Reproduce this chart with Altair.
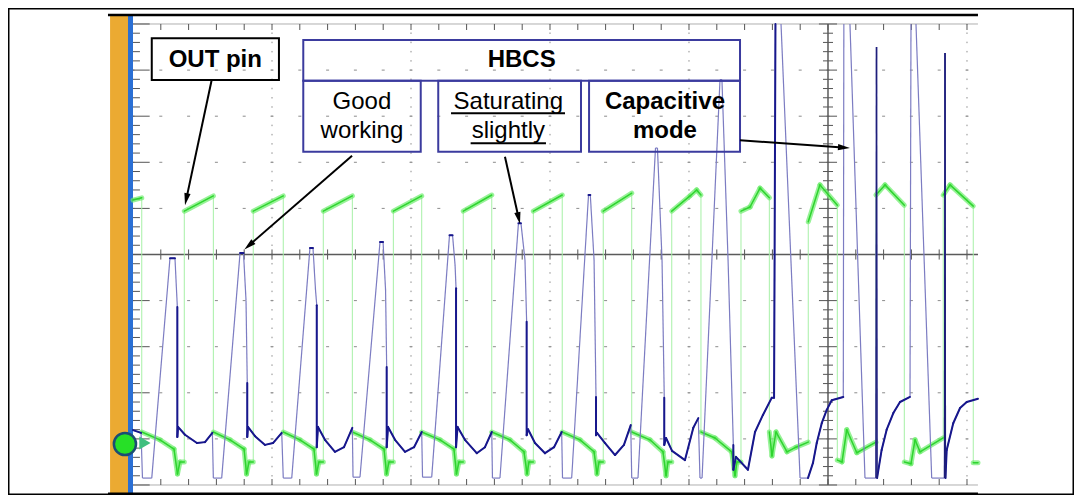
import math
import altair as alt
import pandas as pd

# ---------------------------------------------------------------------------
# Values, in screen divisions.
# time: 0 = left edge of graticule, 1 = one major division
# amplitude: 0 = centre line, 1 = one major division
# ---------------------------------------------------------------------------

# HBCS current (blue trace)
# style 0 = fast (thin), 1 = slow (dark), 2 = off screen, 3 = thin dark spike
blue_t = [
    0.000, 0.058, 0.068, 0.135, 0.266, 0.302, 0.313, 0.319, 0.319, 0.324, 0.374, 0.460, 0.518, 0.571,
    0.578, 0.638, 0.770, 0.795, 0.813, 0.822, 0.822, 0.827, 0.878, 0.950, 1.007, 1.070,
    1.081, 1.142, 1.273, 1.295, 1.313, 1.322, 1.322, 1.331, 1.381, 1.453, 1.518, 1.578,
    1.583, 1.633, 1.777, 1.799, 1.817, 1.825, 1.825, 1.835, 1.885, 1.957, 2.022, 2.077,
    2.083, 2.149, 2.277, 2.299, 2.317, 2.324, 2.324, 2.335, 2.388, 2.473, 2.532, 2.581,
    2.586, 2.640, 2.773, 2.791, 2.820, 2.832, 2.832, 2.842, 2.892, 2.964, 3.029, 3.084,
    3.090, 3.156, 3.277, 3.290, 3.317, 3.331, 3.331, 3.338, 3.396, 3.468, 3.532, 3.581,
    3.588, 3.633, 3.759, 3.773, 3.806, 3.822, 3.822, 3.835, 3.878, 3.971, 4.031, 4.067,
    4.079, 4.094, 4.223, 4.237, 4.281, 4.319, 4.319, 4.338, 4.424, 4.475, 4.532, 4.595, 4.612,
    4.622, 4.662, 4.799, 4.856, 4.892, 4.919, 4.955, 4.991, 5.027, 5.110,
    5.114, 5.158, 5.266, 5.345, 5.349, 5.353, 5.386, 5.422, 5.470, 5.518, 5.590,
    5.597, 5.633, 5.746, 5.838, 5.842, 5.845, 5.854, 5.901, 5.950, 5.998, 6.079,
]
blue_v = [
    -3.81, -3.87, -4.85, -4.85, -0.08, -0.08, -0.77, -1.14, -3.96, -3.74, -3.91, -4.09, -4.07, -3.87,
    -4.85, -4.85, 0.03, 0.03, -0.99, -2.79, -3.96, -3.74, -3.94, -4.13, -4.09, -3.87,
    -4.85, -4.85, 0.14, 0.14, -0.77, -1.10, -4.18, -3.74, -4.02, -4.28, -4.18, -3.76,
    -4.83, -4.83, 0.27, 0.27, -0.77, -2.44, -4.18, -3.74, -4.02, -4.28, -4.18, -3.85,
    -4.83, -4.83, 0.42, 0.42, -0.23, -0.73, -4.18, -3.74, -4.02, -4.31, -4.18, -3.85,
    -4.85, -4.85, 0.68, 0.68, -0.12, -1.46, -3.92, -3.79, -4.09, -4.31, -4.18, -3.85,
    -4.85, -4.85, 1.29, 1.29, -0.12, -3.09, -3.92, -3.87, -4.09, -4.35, -4.13, -3.70,
    -4.85, -4.85, 2.31, 2.31, -0.12, -3.11, -4.13, -3.98, -4.26, -4.46, -3.76, -3.55,
    -4.85, -4.85, 3.79, 3.79, -0.12, -4.13, -4.67, -4.39, -4.67, -3.85, -3.48, -3.11, -3.11,
    5.00, 5.00, -4.85, -4.85, -4.52, -4.09, -3.66, -3.37, -3.16, -3.09,
    5.00, 5.00, -4.85, -4.85, 4.50, -4.85, -4.24, -3.80, -3.44, -3.20, -3.09,
    5.00, 5.00, -4.85, -4.85, 4.37, -4.85, -4.24, -3.66, -3.33, -3.20, -3.13,
]
blue_style = [
    1, 0, 0, 0, 1, 0, 0, 1, 1, 1, 1, 1, 1, 0,
    0, 0, 1, 0, 0, 1, 1, 1, 1, 1, 1, 0,
    0, 0, 1, 0, 0, 1, 1, 1, 1, 1, 1, 0,
    0, 0, 1, 0, 0, 1, 1, 1, 1, 1, 1, 0,
    0, 0, 1, 0, 0, 1, 1, 1, 1, 1, 1, 0,
    0, 0, 1, 0, 0, 1, 1, 1, 1, 1, 1, 0,
    0, 0, 1, 0, 0, 1, 1, 1, 1, 1, 1, 0,
    0, 0, 0, 0, 0, 1, 1, 1, 1, 1, 1, 0,
    0, 0, 0, 0, 0, 1, 1, 1, 1, 1, 1, 1, 1,
    2, 0, 0, 1, 1, 1, 1, 1, 1, 0,
    2, 0, 0, 3, 3, 1, 1, 1, 1, 1, 0,
    2, 0, 0, 3, 3, 1, 1, 1, 1, 1, 0,
]

# OUT pin (green trace)
green_t = [
    0.000, 0.063, 0.063, 0.194, 0.295, 0.320, 0.338, 0.369,
    0.369, 0.578, 0.578, 0.698, 0.799, 0.817, 0.835, 0.865,
    0.865, 1.081, 1.081, 1.201, 1.302, 1.320, 1.338, 1.369,
    1.369, 1.578, 1.578, 1.705, 1.806, 1.824, 1.842, 1.873,
    1.873, 2.077, 2.077, 2.209, 2.309, 2.327, 2.345, 2.376,
    2.376, 2.581, 2.581, 2.712, 2.813, 2.835, 2.849, 2.880,
    2.880, 3.088, 3.088, 3.216, 3.317, 3.338, 3.353, 3.383,
    3.383, 3.588, 3.588, 3.719, 3.813, 3.835, 3.849, 3.876,
    3.876, 4.007, 4.055, 4.086, 4.086, 4.187, 4.307, 4.331, 4.345, 4.374,
    4.374, 4.439, 4.511, 4.578, 4.578, 4.597, 4.626, 4.705, 4.770, 4.858,
    4.858, 4.942, 5.067, 5.067, 5.101, 5.135, 5.207, 5.345,
    5.345, 5.410, 5.549, 5.549, 5.597, 5.626, 5.662, 5.829,
    5.829, 5.878, 6.045, 6.045, 6.079,
]
green_v = [
    1.18, 1.23, -3.85, -4.02, -4.22, -4.76, -4.50, -4.50,
    0.94, 1.27, -3.85, -4.02, -4.22, -4.76, -4.50, -4.50,
    0.94, 1.27, -3.85, -4.02, -4.22, -4.76, -4.50, -4.50,
    0.94, 1.27, -3.85, -4.02, -4.22, -4.76, -4.50, -4.50,
    0.94, 1.27, -3.85, -4.02, -4.22, -4.76, -4.50, -4.50,
    0.94, 1.29, -3.85, -4.02, -4.28, -4.76, -4.50, -4.50,
    0.94, 1.29, -3.85, -4.02, -4.28, -4.76, -4.50, -4.50,
    0.94, 1.33, -3.85, -4.02, -4.28, -4.80, -4.50, -4.50,
    0.94, 1.27, 1.40, 1.29, -3.85, -3.98, -4.28, -4.80, -4.50, -4.50,
    0.94, 1.03, 1.44, 1.23, -3.85, -4.37, -3.85, -4.28, -4.18, -4.07,
    0.71, 1.51, 1.07, -4.46, -4.50, -3.80, -4.30, -4.07,
    1.29, 1.51, 1.07, -4.50, -4.54, -4.02, -4.28, -3.98,
    1.29, 1.51, 1.05, -4.52, -4.52,
]

# graticule
x_minor = [round(0.2 * k, 1) for k in range(31)]
y_minor = [round(-5 + 0.2 * k, 1) for k in range(51)]
x_dotted = [1, 2, 3, 4, 6]
y_dashed = [-4, -3, -2, -1, 1, 2, 3, 4]

# annotation boxes
box_names = ["OUT pin", "HBCS", "Good working", "Saturating slightly", "Capacitive mode"]
box_t0 = [0.135, 1.225, 1.225, 2.196, 3.281]
box_t1 = [1.050, 4.367, 2.070, 3.223, 4.367]
box_v0 = [4.690, 4.653, 3.770, 3.770, 3.770]
box_v1 = [3.785, 3.770, 2.230, 2.230, 2.230]
box_color = ["black", "#3b3b9e", "#3b3b9e", "#3b3b9e", "#3b3b9e"]

bold_text = ["OUT pin", "HBCS", "Capacitive", "mode"]
bold_t = [0.592, 2.796, 3.827, 3.827]
bold_v = [4.074, 4.074, 3.150, 2.521]
plain_text = ["Good", "working", "Saturating", "slightly"]
plain_t = [1.647, 1.647, 2.700, 2.700]
plain_v = [3.150, 2.521, 3.150, 2.521]
under_t0 = [2.288, 2.429]
under_t1 = [3.108, 2.971]
under_v = [3.063, 2.412]

arrow_t0 = [0.566, 1.576, 2.676, 4.367]
arrow_v0 = [3.785, 2.140, 2.120, 2.480]
arrow_t1 = [0.374, 0.801, 2.784, 5.158]
arrow_v1 = [1.070, 0.110, 0.660, 2.310]

# ---------------------------------------------------------------------------
T_MIN, T_MAX = -0.8993, 6.7698
V_MIN, V_MAX = -5.217, 5.347
W, H = 1066, 487
PX_T = W / (T_MAX - T_MIN)
PX_V = H / (V_MAX - V_MIN)

xs = alt.Scale(domain=[T_MIN, T_MAX], nice=False, zero=False)
ys = alt.Scale(domain=[V_MIN, V_MAX], nice=False, zero=False)


def enc_seg(ch):
    return ch.encode(
        x=alt.X("t:Q", scale=xs, axis=None),
        x2="t2:Q",
        y=alt.Y("v:Q", scale=ys, axis=None),
        y2="v2:Q",
    )


def rules(df, **kw):
    return enc_seg(alt.Chart(df).mark_rule(**kw))


def rects(df, **kw):
    return enc_seg(alt.Chart(df).mark_rect(**kw))


def seg_df(ts, vs, styles=None):
    rows = []
    for i in range(len(ts) - 1):
        if styles is not None:
            s = styles[i]
        else:
            s = 1 if ts[i + 1] - ts[i] > 1e-6 else 0
        rows.append(dict(t=ts[i], v=vs[i], t2=ts[i + 1], v2=vs[i + 1], s=s))
    return pd.DataFrame(rows)


layers = []

# orange channel bar + blue strip
layers.append(rects(pd.DataFrame([dict(t=-0.165, t2=-0.036, v=5.195, v2=-5.195)]), color="#EBAA32"))
layers.append(rects(pd.DataFrame([dict(t=-0.036, t2=0.0, v=5.195, v2=-5.195)]), color="#2A6FD4"))

# dotted vertical grid lines
layers.append(rules(pd.DataFrame([dict(t=x, t2=x, v=5, v2=-5) for x in x_dotted]),
                    color="#8c8c8c", strokeWidth=1, strokeDash=[1.5, 7.72], strokeDashOffset=0.75))
# dashed horizontal grid lines
layers.append(rules(pd.DataFrame([dict(t=0, t2=6.079, v=y, v2=y) for y in y_dashed]),
                    color="#8c8c8c", strokeWidth=1, strokeDash=[3, 24.8], strokeDashOffset=1.5))
# top / bottom graticule edges
layers.append(rules(pd.DataFrame([dict(t=0, t2=6.079, v=y, v2=y) for y in (5, -5)]),
                    color="#b0b0b0", strokeWidth=1))
# ticks
tick_rows = [dict(t=x, t2=x, v=5, v2=4.87) for x in x_minor[1:]]
tick_rows += [dict(t=x, t2=x, v=-5, v2=-4.87) for x in x_minor[1:]]
tick_rows += [dict(t=x, t2=x, v=-0.11, v2=0.11) for x in x_minor[1:]]
for y in y_minor:
    major = abs(y - round(y)) < 1e-6
    tick_rows.append(dict(t=0, t2=(0.12 if major else 0.05), v=y, v2=y))
    half = 0.065 if major else 0.036
    tick_rows.append(dict(t=5 - half, t2=5 + half, v=y, v2=y))
layers.append(rules(pd.DataFrame(tick_rows), color="#555555", strokeWidth=1))
# centre cross
layers.append(rules(pd.DataFrame([dict(t=0, t2=6.079, v=0, v2=0), dict(t=5, t2=5, v=5, v2=-5)]),
                    color="#5a5a5a", strokeWidth=1.5))

# inner frame top/bottom
layers.append(rules(pd.DataFrame([dict(t=-0.18, t2=6.079, v=y, v2=y) for y in (5.195, -5.19)]),
                    color="black", strokeWidth=2.5))

# green trace
g = seg_df(green_t, green_v)
layers.append(rules(g, color="#a6f0a6", strokeWidth=1))
layers.append(rules(g[g.s == 1], color="#6cec6c", strokeWidth=5, strokeCap="round", opacity=0.7))
layers.append(rules(g[g.s == 1], color="#2fd42f", strokeWidth=1.5, strokeCap="round"))

# blue trace
b = seg_df(blue_t, blue_v, blue_style)
layers.append(rules(b[b.s != 2], color="#7c7cc2", strokeWidth=1.2))
layers.append(rules(b[b.s == 1], color="#17178c", strokeWidth=2, strokeCap="round"))
layers.append(rules(b[b.s == 3], color="#1e1e7a", strokeWidth=1.3))

# channel marker
layers.append(alt.Chart(pd.DataFrame([dict(t=0.086, v=-4.09)])).mark_point(
    shape="triangle-right", filled=True, size=170, color="#3fbf7f", opacity=1).encode(
    x=alt.X("t:Q", scale=xs, axis=None), y=alt.Y("v:Q", scale=ys, axis=None)))
layers.append(alt.Chart(pd.DataFrame([dict(t=-0.058, v=-4.11)])).mark_point(
    shape="circle", filled=True, size=490, fill="#27e027", stroke="#1b4d72", strokeWidth=2.5,
    opacity=1).encode(x=alt.X("t:Q", scale=xs, axis=None), y=alt.Y("v:Q", scale=ys, axis=None)))

# annotation boxes
boxes = pd.DataFrame(dict(name=box_names, t=box_t0, t2=box_t1, v=box_v0, v2=box_v1, c=box_color))
for c in ("black", "#3b3b9e"):
    layers.append(rects(boxes[boxes.c == c], fillOpacity=0, stroke=c, strokeWidth=2))

# texts
layers.append(alt.Chart(pd.DataFrame(dict(label=bold_text, t=bold_t, v=bold_v))).mark_text(
    font="Liberation Sans", fontSize=24, fontWeight="bold", align="center", baseline="alphabetic",
    color="black").encode(x=alt.X("t:Q", scale=xs, axis=None), y=alt.Y("v:Q", scale=ys, axis=None),
                          text="label:N"))
layers.append(alt.Chart(pd.DataFrame(dict(label=plain_text, t=plain_t, v=plain_v))).mark_text(
    font="Liberation Sans", fontSize=24, align="center", baseline="alphabetic",
    color="black").encode(x=alt.X("t:Q", scale=xs, axis=None), y=alt.Y("v:Q", scale=ys, axis=None),
                          text="label:N"))
layers.append(rules(pd.DataFrame(dict(t=under_t0, t2=under_t1, v=under_v, v2=under_v)),
                    color="black", strokeWidth=2))

# arrows
R_HEAD = 7.5
arrow_rows, head_rows = [], []
for t0, v0, t1, v1 in zip(arrow_t0, arrow_v0, arrow_t1, arrow_v1):
    dx = (t1 - t0) * PX_T
    dy = -(v1 - v0) * PX_V
    L = math.hypot(dx, dy)
    ux, uy = dx / L, dy / L
    ang = math.degrees(math.atan2(ux, -uy)) % 360
    ct = t1 - ux * R_HEAD / PX_T
    cv = v1 + uy * R_HEAD / PX_V
    arrow_rows.append(dict(t=t0, v=v0, t2=ct, v2=cv))
    head_rows.append(dict(t=ct, v=cv, ang=ang))
layers.append(rules(pd.DataFrame(arrow_rows), color="black", strokeWidth=2))
layers.append(alt.Chart(pd.DataFrame(head_rows)).mark_point(
    shape="M0,-1L0.42,0.6L-0.42,0.6Z", filled=True, size=(2 * R_HEAD) ** 2, color="black",
    opacity=1).encode(x=alt.X("t:Q", scale=xs, axis=None), y=alt.Y("v:Q", scale=ys, axis=None),
                      angle=alt.Angle("ang:Q", scale=None)))

chart = alt.layer(*layers).properties(
    width=W, height=H, padding=0, autosize=alt.AutoSizeParams(type="none"), background="white"
).configure_view(stroke="black", strokeWidth=3)

chart.save("out.html", embed_options={"renderer": "svg", "actions": False})
